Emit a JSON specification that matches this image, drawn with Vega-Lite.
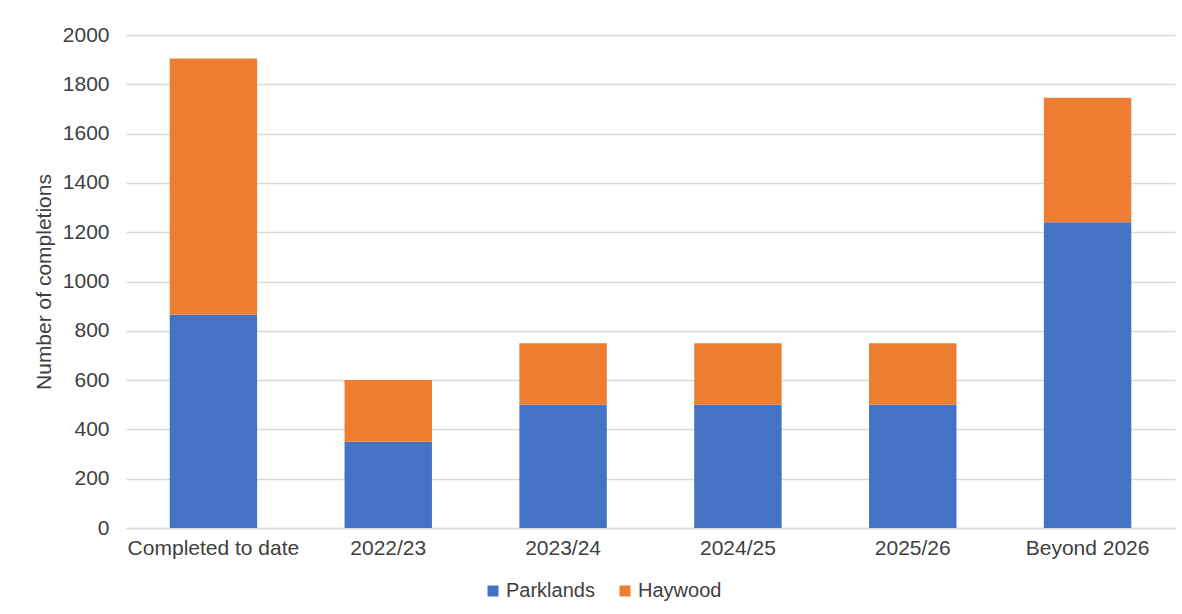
{
  "$schema": "https://vega.github.io/schema/vega-lite/v6.json",
  "autosize": {"type": "none"},
  "width": 1049,
  "height": 493,
  "padding": {"left": 126, "top": 35, "right": 7, "bottom": 86},
  "background": "white",
  "config": {
    "font": "Liberation Sans",
    "view": {"stroke": null},
    "axis": {"labelFont": "Liberation Sans", "titleFont": "Liberation Sans"},
    "legend": {"labelFont": "Liberation Sans"}
  },
  "data": {
    "values": [
      {"period": "Completed to date", "series": "Parklands", "value": 865},
      {"period": "Completed to date", "series": "Haywood", "value": 1040},
      {"period": "2022/23", "series": "Parklands", "value": 350},
      {"period": "2022/23", "series": "Haywood", "value": 250},
      {"period": "2023/24", "series": "Parklands", "value": 500},
      {"period": "2023/24", "series": "Haywood", "value": 250},
      {"period": "2024/25", "series": "Parklands", "value": 500},
      {"period": "2024/25", "series": "Haywood", "value": 250},
      {"period": "2025/26", "series": "Parklands", "value": 500},
      {"period": "2025/26", "series": "Haywood", "value": 250},
      {"period": "Beyond 2026", "series": "Parklands", "value": 1240},
      {"period": "Beyond 2026", "series": "Haywood", "value": 505}
    ]
  },
  "mark": {"type": "bar"},
  "encoding": {
    "x": {
      "field": "period",
      "type": "nominal",
      "sort": null,
      "title": null,
      "scale": {"paddingInner": 0.5, "paddingOuter": 0.25},
      "axis": {
        "labelAngle": 0,
        "labelFontSize": 21,
        "labelColor": "#404040",
        "labelPadding": 9,
        "ticks": false,
        "domain": true,
        "domainColor": "#D9D9D9",
        "domainWidth": 1.5,
        "grid": false
      }
    },
    "y": {
      "field": "value",
      "type": "quantitative",
      "stack": "zero",
      "title": "Number of completions",
      "scale": {"domain": [0, 2000], "nice": false},
      "axis": {
        "values": [0, 200, 400, 600, 800, 1000, 1200, 1400, 1600, 1800, 2000],
        "format": "d",
        "labelFontSize": 21,
        "labelColor": "#404040",
        "labelPadding": 17,
        "ticks": false,
        "domain": false,
        "grid": true,
        "gridColor": "#D9D9D9",
        "gridWidth": 1.5,
        "titleFontSize": 21,
        "titleFontWeight": "normal",
        "titleColor": "#404040",
        "titlePadding": 8
      }
    },
    "color": {
      "field": "series",
      "type": "nominal",
      "scale": {"domain": ["Parklands", "Haywood"], "range": ["#4472C4", "#ED7D31"]},
      "legend": {
        "title": null,
        "orient": "none",
        "direction": "horizontal",
        "legendX": 357,
        "legendY": 546,
        "symbolType": "square",
        "symbolSize": 121,
        "symbolStrokeWidth": 0,
        "labelFontSize": 20,
        "labelColor": "#404040",
        "columnPadding": 20,
        "labelOffset": 3
      }
    },
    "order": {"field": "series", "sort": "descending"}
  }
}
